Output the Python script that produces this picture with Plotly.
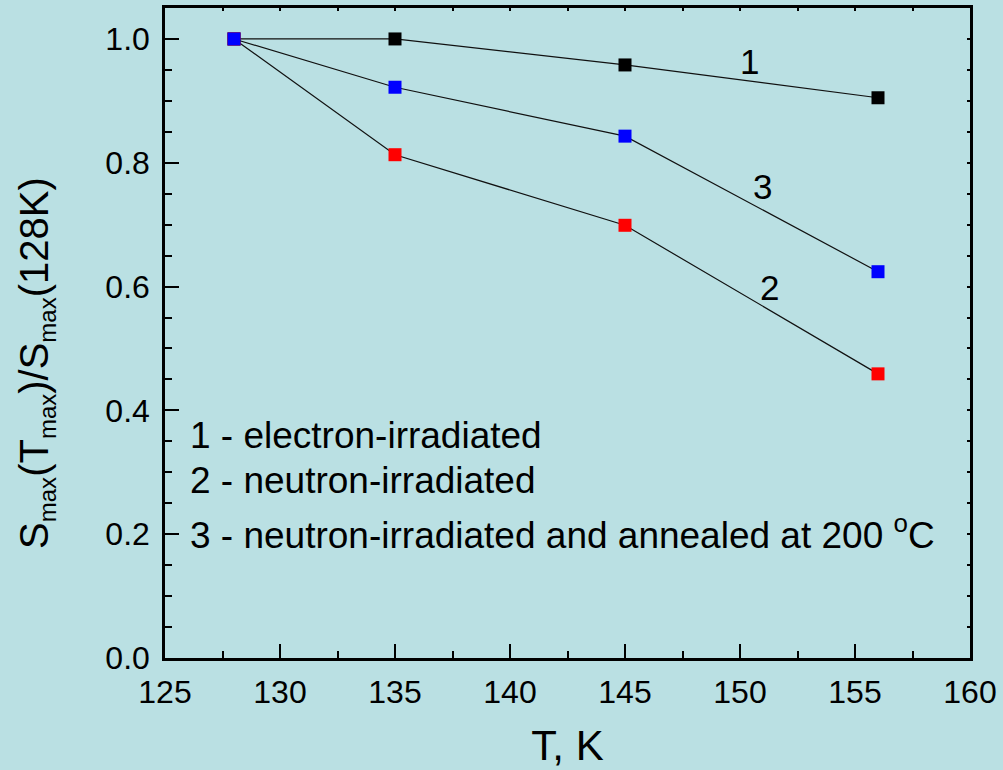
import plotly.graph_objects as go

# Temperature points, K
temperature = [128, 135, 145, 156]

# Normalised S_max(T_max)/S_max(128K) for each sample
electron_irr = [1.0, 1.0, 0.958, 0.905]
neutron_irr = [1.0, 0.813, 0.699, 0.459]
neutron_annealed = [1.0, 0.922, 0.843, 0.624]

x_ticks = [125, 130, 135, 140, 145, 150, 155, 160]
y_ticks = [0.0, 0.2, 0.4, 0.6, 0.8, 1.0]

legend_lines = [
    "1 - electron-irradiated",
    "2 - neutron-irradiated",
    "3 - neutron-irradiated and annealed at 200 <sup>o</sup>C",
]

BG = "#BAE0E3"
FONT = "Liberation Sans, Arial, sans-serif"

fig = go.Figure()

series = [
    (electron_irr, "#000000"),
    (neutron_irr, "#FF0000"),
    (neutron_annealed, "#0000FF"),
]
for values, color in series:
    fig.add_trace(go.Scatter(
        x=temperature, y=values, mode="lines+markers",
        line=dict(color="#111111", width=1.2),
        marker=dict(symbol="square", size=13, color=color,
                    line=dict(width=0)),
        showlegend=False, cliponaxis=False,
    ))

# empty trace to carry the mirrored top/right tick marks
fig.add_trace(go.Scatter(x=[], y=[], xaxis="x2", yaxis="y2", showlegend=False))

# curve numbers
curve_labels = [("1", 150.4, 0.963), ("3", 150.96, 0.761), ("2", 151.3, 0.599)]
for txt, xv, yv in curve_labels:
    fig.add_annotation(x=xv, y=yv, text=txt, showarrow=False,
                       font=dict(family=FONT, size=35, color="black"))

# description block
legend_y = [0.36, 0.286, 0.202]
for txt, yv in zip(legend_lines, legend_y):
    fig.add_annotation(x=126.0, y=yv, text=txt, showarrow=False,
                       xanchor="left", yanchor="middle",
                       font=dict(family=FONT, size=37, color="black"))

# y-axis title, placed as a rotated annotation
sub = "<sub><span style='font-size:24px'>max</span></sub>"
fig.add_annotation(
    xref="paper", yref="paper", x=-0.159, y=0.454,
    text=f"S{sub}(T{sub})/S{sub}(128K)", textangle=-90, showarrow=False,
    xanchor="center", yanchor="middle",
    font=dict(family=FONT, size=40, color="black"),
)

axis_common = dict(
    showline=True, mirror=True, linecolor="black", linewidth=2.5,
    showgrid=False, zeroline=False, automargin=False,
    ticks="inside", tickcolor="black", tickwidth=2, ticklen=14,
    tickfont=dict(family=FONT, size=32, color="black"),
)

fig.update_layout(
    width=1003, height=770,
    paper_bgcolor=BG, plot_bgcolor=BG,
    margin=dict(l=165, r=33, t=8, b=112, autoexpand=False),
    xaxis=dict(
        range=[125, 160], tickvals=x_ticks, ticktext=[str(v) for v in x_ticks],
        minor=dict(dtick=2.5, tick0=125, ticks="inside", ticklen=7,
                   tickwidth=2, tickcolor="black"),
        title=dict(text="T, K", font=dict(family=FONT, size=42, color="black"),
                   standoff=22),
        ticklabelstandoff=4,
        **axis_common,
    ),
    yaxis=dict(
        range=[0, 1.05], tickvals=y_ticks, ticktext=[f"{v:.1f}" for v in y_ticks],
        minor=dict(dtick=0.05, tick0=0, ticks="inside", ticklen=7,
                   tickwidth=2, tickcolor="black"),
        ticklabelstandoff=6,
        **axis_common,
    ),
    xaxis2=dict(
        range=[125, 160], overlaying="x", side="top", anchor="y2",
        showline=False, showgrid=False, zeroline=False, showticklabels=False,
        automargin=False,
        ticks="inside", dtick=2.5, tick0=125, ticklen=3, tickwidth=1.5,
        tickcolor="black",
    ),
    yaxis2=dict(
        range=[0, 1.05], overlaying="y", side="right", anchor="x2",
        showline=False, showgrid=False, zeroline=False, showticklabels=False,
        automargin=False,
        ticks="inside", dtick=0.05, tick0=0, ticklen=3, tickwidth=1.5,
        tickcolor="black",
    ),
)

fig.write_html("out.html")
